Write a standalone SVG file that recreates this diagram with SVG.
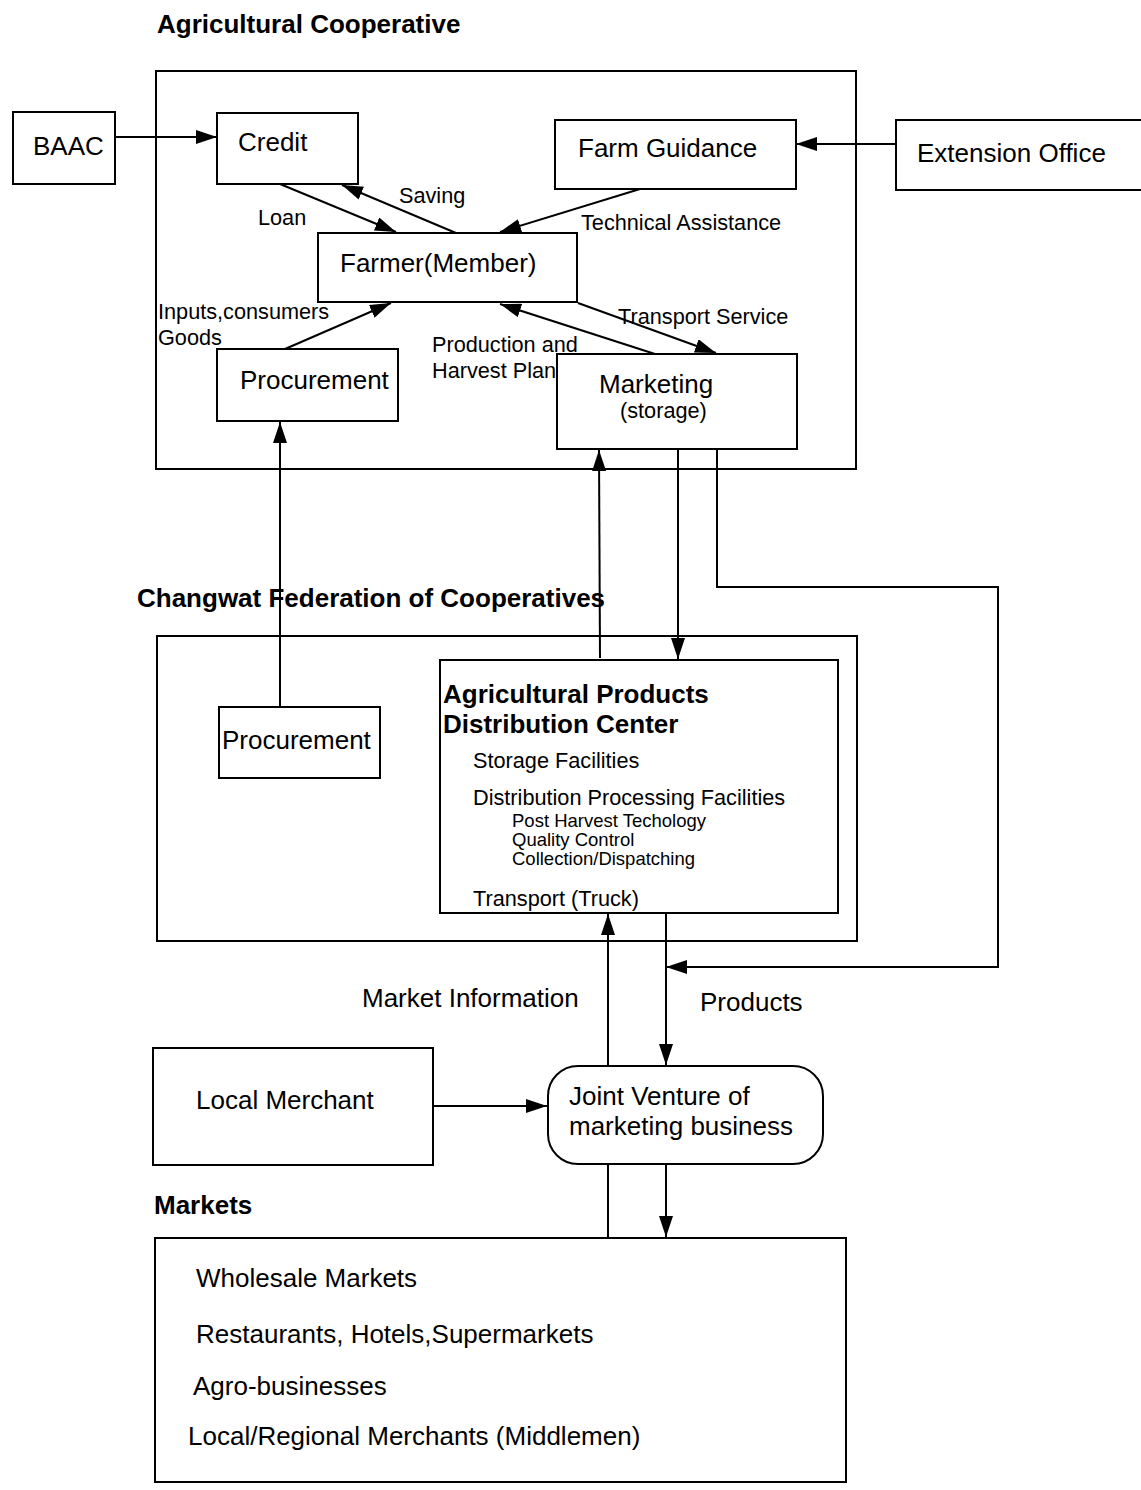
<svg xmlns="http://www.w3.org/2000/svg" width="1141" height="1490" viewBox="0 0 1141 1490">
<style>
text{font-family:"Liberation Sans",Arial,sans-serif;fill:#000}
.m{font-size:26px}
.b{font-size:26px;font-weight:bold}
.l{font-size:21.7px}
.s{font-size:18.5px}
.box{fill:none;stroke:#000;stroke-width:2}
.c{fill:none;stroke:#000;stroke-width:2}
</style>
<defs>
<marker id="ah" markerUnits="userSpaceOnUse" markerWidth="22" markerHeight="14" refX="21" refY="7" orient="auto">
<path d="M0,0 L21,7 L0,14 z" fill="#000"/>
</marker>
</defs>
<rect width="1141" height="1490" fill="#fff"/>

<g id="agri-coop">
<text class="b" x="157" y="33">Agricultural Cooperative</text>
<rect class="box" x="156" y="71" width="700" height="398"/>
</g>
<g id="baac"><rect class="box" x="13" y="112" width="102" height="72"/><text class="m" x="33" y="155">BAAC</text></g>
<g id="credit"><rect class="box" x="217" y="113" width="141" height="71"/><text class="m" x="238" y="151">Credit</text></g>
<g id="farm-guidance"><rect class="box" x="555" y="120" width="241" height="69"/><text class="m" x="578" y="157">Farm Guidance</text></g>
<g id="extension"><rect class="box" x="896" y="120" width="250" height="70"/><text class="m" x="917" y="162">Extension Office</text></g>
<g id="farmer"><rect class="box" x="318" y="233" width="259" height="69"/><text class="m" x="340" y="272">Farmer(Member)</text></g>
<g id="procurement-coop"><rect class="box" x="217" y="349" width="181" height="72"/><text class="m" x="240" y="389">Procurement</text></g>
<g id="marketing"><rect class="box" x="557" y="354" width="240" height="95"/><text class="m" x="599" y="393">Marketing</text><text class="l" x="620" y="418">(storage)</text></g>

<g id="federation">
<text class="b" x="137" y="607">Changwat Federation of Cooperatives</text>
<rect class="box" x="157" y="636" width="700" height="305"/>
</g>
<g id="procurement-fed"><rect class="box" x="219" y="707" width="161" height="71"/><text class="m" x="222" y="749">Procurement</text></g>
<g id="apdc">
<rect class="box" x="440" y="660" width="398" height="253"/>
<text class="b" x="443" y="703">Agricultural Products</text>
<text class="b" x="443" y="733">Distribution Center</text>
<text class="l" x="473" y="768">Storage Facilities</text>
<text class="l" x="473" y="805">Distribution Processing Facilities</text>
<text class="s" x="512" y="827">Post Harvest Techology</text>
<text class="s" x="512" y="846">Quality Control</text>
<text class="s" x="512" y="865">Collection/Dispatching</text>
<text class="l" x="473" y="906">Transport (Truck)</text>
</g>

<g id="local-merchant"><rect class="box" x="153" y="1048" width="280" height="117"/><text class="m" x="196" y="1109">Local Merchant</text></g>
<g id="joint-venture"><rect class="box" x="548" y="1066" width="275" height="98" rx="30" ry="30"/><text class="m" x="569" y="1105">Joint Venture of</text><text class="m" x="569" y="1135">marketing business</text></g>

<g id="markets">
<text class="b" x="154" y="1214">Markets</text>
<rect class="box" x="155" y="1238" width="691" height="244"/>
<text class="m" x="196" y="1287">Wholesale Markets</text>
<text class="m" x="196" y="1343">Restaurants, Hotels,Supermarkets</text>
<text class="m" x="193" y="1395">Agro-businesses</text>
<text class="m" x="188" y="1445">Local/Regional Merchants (Middlemen)</text>
</g>

<g id="connectors">
<line class="c" x1="115" y1="137" x2="217" y2="137" marker-end="url(#ah)"/>
<line class="c" x1="896" y1="144" x2="796" y2="144" marker-end="url(#ah)"/>
<line class="c" x1="280" y1="184" x2="396" y2="232" marker-end="url(#ah)"/>
<line class="c" x1="456" y1="233" x2="342" y2="185" marker-end="url(#ah)"/>
<line class="c" x1="640" y1="189" x2="500" y2="232" marker-end="url(#ah)"/>
<line class="c" x1="285" y1="349" x2="391" y2="303" marker-end="url(#ah)"/>
<line class="c" x1="655" y1="354" x2="500" y2="304" marker-end="url(#ah)"/>
<line class="c" x1="578" y1="303" x2="716" y2="353" marker-end="url(#ah)"/>
<line class="c" x1="280" y1="707" x2="280" y2="422" marker-end="url(#ah)"/>
<line class="c" x1="600" y1="658" x2="599" y2="450" marker-end="url(#ah)"/>
<line class="c" x1="678" y1="449" x2="678" y2="659" marker-end="url(#ah)"/>
<polyline class="c" points="717,449 717,587 998,587 998,967 666,967" marker-end="url(#ah)"/>
<line class="c" x1="608" y1="1066" x2="608" y2="914" marker-end="url(#ah)"/>
<line class="c" x1="666" y1="913" x2="666" y2="1065" marker-end="url(#ah)"/>
<line class="c" x1="608" y1="1164" x2="608" y2="1238"/>
<line class="c" x1="666" y1="1164" x2="666" y2="1237" marker-end="url(#ah)"/>
<line class="c" x1="433" y1="1106" x2="547" y2="1106" marker-end="url(#ah)"/>
<text class="l" x="258" y="225">Loan</text>
<text class="l" x="399" y="203">Saving</text>
<text class="l" x="581" y="230">Technical Assistance</text>
<text class="l" x="158" y="319">Inputs,consumers</text>
<text class="l" x="158" y="345">Goods</text>
<text class="l" x="432" y="352">Production and</text>
<text class="l" x="432" y="378">Harvest Plan</text>
<text class="l" x="618" y="324">Transport Service</text>
<text class="m" x="362" y="1007">Market Information</text>
<text class="m" x="700" y="1011">Products</text>
</g>
</svg>
